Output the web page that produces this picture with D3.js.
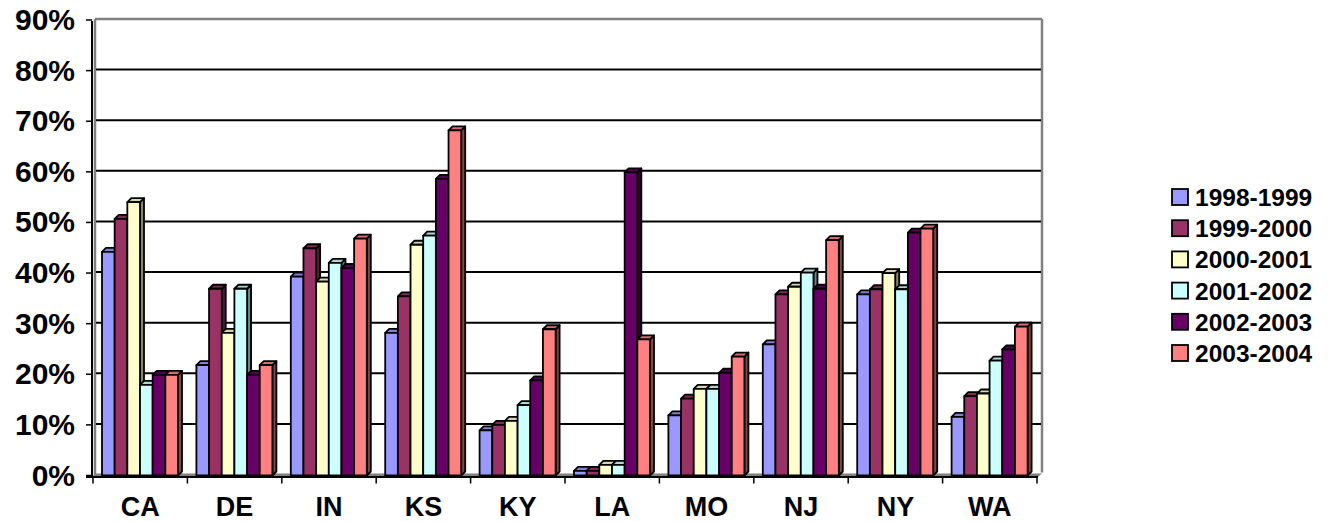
<!DOCTYPE html>
<html>
<head>
<meta charset="utf-8">
<script src="https://cdn.jsdelivr.net/npm/d3@7"></script>
<style>
  body { margin: 0; background: #fff; }
  svg text { font-family: "Liberation Sans", Arial, sans-serif; font-weight: bold; fill: #000; }
</style>
</head>
<body>
<div id="chart"></div>
<script>
const states = ['CA', 'DE', 'IN', 'KS', 'KY', 'LA', 'MO', 'NJ', 'NY', 'WA'];
const seasons = ['1998-1999', '1999-2000', '2000-2001', '2001-2002', '2002-2003', '2003-2004'];
const colors = ['#9999FF', '#993366', '#FFFFCC', '#CCFFFF', '#660066', '#FF8080'];

// one array per season, in the order of states
const s1998 = [0.44, 0.216, 0.391, 0.28, 0.087, 0.007, 0.117, 0.257, 0.356, 0.114];
const s1999 = [0.505, 0.367, 0.447, 0.352, 0.098, 0.007, 0.15, 0.356, 0.366, 0.155];
const s2000 = [0.538, 0.28, 0.381, 0.454, 0.106, 0.019, 0.169, 0.371, 0.398, 0.16];
const s2001 = [0.177, 0.367, 0.418, 0.472, 0.137, 0.019, 0.169, 0.399, 0.366, 0.225];
const s2002 = [0.197, 0.197, 0.408, 0.584, 0.186, 0.597, 0.201, 0.367, 0.478, 0.247];
const s2003 = [0.197, 0.216, 0.466, 0.68, 0.287, 0.267, 0.233, 0.463, 0.486, 0.292];
const seriesValues = [s1998, s1999, s2000, s2001, s2002, s2003];

const yTicks = [0, 0.1, 0.2, 0.3, 0.4, 0.5, 0.6, 0.7, 0.8, 0.9];

const width = 1331, height = 522;
const depth = 4;

const svg = d3.select('#chart').append('svg')
    .attr('width', width)
    .attr('height', height);

const x = d3.scaleBand()
    .domain(states)
    .range([93, 1037]);

const xInner = d3.scaleBand()
    .domain(seasons)
    .range([9, 85]);

const y = d3.scaleLinear()
    .domain([0, 0.9])
    .range([474.5, 19]);

// back wall
const wallLeft = 95, wallRight = 1042;
svg.append('line')
    .attr('x1', wallLeft).attr('x2', wallRight)
    .attr('y1', y(0.9)).attr('y2', y(0.9))
    .attr('stroke', '#808080').attr('stroke-width', 2.5);
svg.append('line')
    .attr('x1', wallLeft).attr('x2', wallLeft)
    .attr('y1', y(0.9)).attr('y2', y(0) + 1)
    .attr('stroke', '#808080').attr('stroke-width', 2.5);
svg.append('line')
    .attr('x1', wallRight).attr('x2', wallRight)
    .attr('y1', y(0.9)).attr('y2', y(0) - 2)
    .attr('stroke', '#808080').attr('stroke-width', 2.5);

// gridlines
svg.append('g').selectAll('line')
    .data(yTicks.filter(d => d > 0 && d < 0.9))
    .enter().append('line')
    .attr('x1', wallLeft + 1).attr('x2', wallRight - 1)
    .attr('y1', d => y(d)).attr('y2', d => y(d))
    .attr('stroke', '#000').attr('stroke-width', 2);

// floor
svg.append('path')
    .attr('d', `M${wallLeft},${y(0) - 1}L${wallRight},${y(0) - 1}L${wallRight - 4},${y(0) + 2.5}L${92},${y(0) + 2.5}Z`)
    .attr('fill', '#808080');

// bars
const shade = (c, k) => d3.rgb(c).darker(k).toString();
const barsG = svg.append('g');
states.forEach((st, i) => {
    seasons.forEach((se, j) => {
        const v = seriesValues[j][i];
        const x0 = x(st) + xInner(se);
        const w = xInner.bandwidth();
        const yt = y(v);
        const yb = y(0) + 1;
        const g = barsG.append('g')
            .attr('stroke', '#000')
            .attr('stroke-width', 1.8)
            .attr('stroke-linejoin', 'round');
        g.append('path')
            .attr('d', `M${x0 + w},${yb}L${x0 + w},${yt}L${x0 + w + depth},${yt - depth}L${x0 + w + depth},${yb - depth}Z`)
            .attr('fill', shade(colors[j], 1.8));
        g.append('path')
            .attr('d', `M${x0},${yt}L${x0 + depth},${yt - depth}L${x0 + w + depth},${yt - depth}L${x0 + w},${yt}Z`)
            .attr('fill', shade(colors[j], 0.5));
        g.append('rect')
            .attr('x', x0).attr('y', yt)
            .attr('width', w).attr('height', Math.max(0, yb - yt))
            .attr('fill', colors[j]);
    });
});

// y axis
svg.append('line')
    .attr('x1', 92).attr('x2', 92)
    .attr('y1', y(0.9) + 2).attr('y2', y(0) + 2.5)
    .attr('stroke', '#000').attr('stroke-width', 2);
svg.append('g').selectAll('line')
    .data(yTicks)
    .enter().append('line')
    .attr('x1', 86).attr('x2', 92)
    .attr('y1', d => y(d) + 1).attr('y2', d => y(d) + 1)
    .attr('stroke', '#000').attr('stroke-width', 1.5);
svg.append('g').selectAll('text')
    .data(yTicks)
    .enter().append('text')
    .attr('x', 75)
    .attr('y', d => y(d) + 11)
    .attr('text-anchor', 'end')
    .attr('font-size', 30)
    .text(d3.format('.0%'));

// x axis
svg.append('line')
    .attr('x1', 86).attr('x2', 1038)
    .attr('y1', y(0) + 2.5).attr('y2', y(0) + 2.5)
    .attr('stroke', '#000').attr('stroke-width', 2);
svg.append('g').selectAll('line')
    .data(states.concat(['end']))
    .enter().append('line')
    .attr('x1', (d, i) => x.range()[0] + i * x.step())
    .attr('x2', (d, i) => x.range()[0] + i * x.step())
    .attr('y1', y(0) + 2.5).attr('y2', y(0) + 9)
    .attr('stroke', '#000').attr('stroke-width', 1.5);
svg.append('g').selectAll('text')
    .data(states)
    .enter().append('text')
    .attr('x', d => x(d) + x.bandwidth() / 2)
    .attr('y', 516)
    .attr('text-anchor', 'middle')
    .attr('font-size', 27)
    .text(d => d);

// legend
const legend = svg.append('g').selectAll('g')
    .data(seasons)
    .enter().append('g')
    .attr('transform', (d, i) => `translate(1172, ${189 + i * 31.2})`);
legend.append('rect')
    .attr('width', 16).attr('height', 16)
    .attr('fill', (d, i) => colors[i])
    .attr('stroke', '#000').attr('stroke-width', 1.8);
legend.append('text')
    .attr('x', 23)
    .attr('y', 17)
    .attr('font-size', 24.5)
    .text(d => d);
</script>
</body>
</html>
